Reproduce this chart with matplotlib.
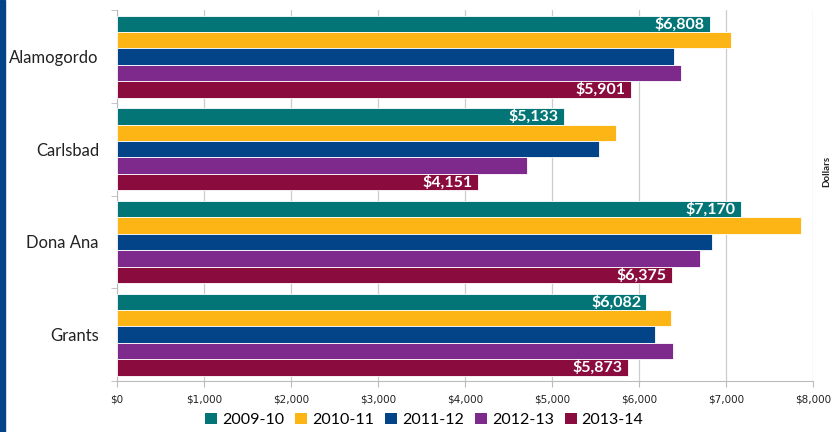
import matplotlib
matplotlib.use("Agg")
import matplotlib.pyplot as plt
from matplotlib.patches import Patch, Rectangle
import numpy as np

categories = ["Alamogordo", "Carlsbad", "Dona Ana", "Grants"]
years = ["2009-10", "2010-11", "2011-12", "2012-13", "2013-14"]
v2009 = [6808, 5133, 7170, 6082]
v2010 = [7050, 5730, 7860, 6365]
v2011 = [6400, 5537, 6832, 6181]
v2012 = [6480, 4713, 6700, 6384]
v2013 = [5901, 4151, 6375, 5873]
series = [v2009, v2010, v2011, v2012, v2013]
labeled = [True, False, False, False, True]
colors = ["#047576", "#FDB515", "#034488", "#7E2A8D", "#8A0C3F"]
xticks = [0, 1000, 2000, 3000, 4000, 5000, 6000, 7000, 8000]

plt.rcParams['font.family'] = ['Lato', 'DejaVu Sans']

fig = plt.figure(figsize=(8.32, 4.32), dpi=100)
ax = fig.add_axes([0.1406, 0.118, 0.8369, 0.8584])

n = len(series)
group = 0.885
bh = group / n
y_centers = np.arange(len(categories))
for i, (vals, col, lab) in enumerate(zip(series, colors, labeled)):
    ys = y_centers - group / 2 + bh * (i + 0.5)
    bars = ax.barh(ys, vals, height=bh, color=col, edgecolor='white', linewidth=0.6, zorder=3)
    if lab:
        for b, v in zip(bars, vals):
            ax.text(v - 60, b.get_y() + b.get_height() / 2, f"${v:,}", ha='right', va='center',
                    color='white', fontsize=11.5, fontweight='bold', zorder=4)

ax.set_ylim(len(categories) - 0.5, -0.5)
ax.set_xlim(0, 8000)
ax.set_yticks(y_centers)
ax.set_yticklabels(categories, fontsize=12, color='#222222')
ax.tick_params(axis='y', length=0, pad=13)
ax.set_yticks(np.arange(-0.5, len(categories)), minor=True)
ax.tick_params(axis='y', which='minor', length=4, color='#BBBBBB', direction='out')

ax.set_xticks(xticks)
ax.set_xticklabels([f"${t:,}" for t in xticks],
                   fontsize=7.5, family=['Liberation Sans Narrow', 'DejaVu Sans'], color='#222222')
ax.tick_params(axis='x', length=4, color='#BBBBBB', pad=6)
ax.grid(axis='x', color='#CCCCCC', linewidth=0.9, zorder=0)

for s in ['top', 'right']:
    ax.spines[s].set_visible(False)
ax.spines['left'].set_color('#BBBBBB')
ax.spines['bottom'].set_color('#BBBBBB')

# left blue stripe
fig.patches.append(Rectangle((0, 0), 5 / 832, 1, transform=fig.transFigure,
                             color='#034488', zorder=0))

fig.text(826.5 / 832, 1 - 171 / 432, "Dollars", rotation=90, ha='center', va='center',
         fontsize=7, fontweight='bold', color='#222222')

handles = [Patch(facecolor=c, edgecolor='none') for c in colors]
fig.legend(handles, years, loc='center', bbox_to_anchor=(0.51, 1 - 420 / 432), ncol=5,
           frameon=False, fontsize=11.5, handlelength=0.75, handleheight=0.75,
           handletextpad=0.3, columnspacing=0.7)

fig.savefig("out.png", dpi=100)
